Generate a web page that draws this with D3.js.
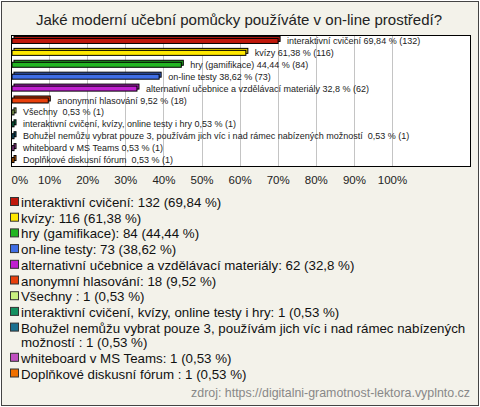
<!DOCTYPE html>
<html><head><meta charset="utf-8">
<script src="https://cdn.jsdelivr.net/npm/d3@7"></script>
<style>
html,body{margin:0;padding:0;background:#fff;}
svg{display:block;font-family:"Liberation Sans",Arial,sans-serif;}
</style></head>
<body>
<svg id="c" width="480" height="407"></svg>
<script>
const title = "Jaké moderní učební pomůcky používáte v on-line prostředí?";
const categories = [
  "interaktivní cvičení",
  "kvízy",
  "hry (gamifikace)",
  "on-line testy",
  "alternativní učebnice a vzdělávací materiály",
  "anonymní hlasování",
  "Všechny ",
  "interaktivní cvičení, kvízy, online testy i hry",
  "Bohužel nemůžu vybrat pouze 3, používám jich víc i nad rámec nabízených možností ",
  "whiteboard v MS Teams",
  "Doplňkové diskusní fórum "
];
const counts = [132, 116, 84, 73, 62, 18, 1, 1, 1, 1, 1];
const percents = [69.84, 61.38, 44.44, 38.62, 32.8, 9.52, 0.53, 0.53, 0.53, 0.53, 0.53];
const tickValues = [0, 10, 20, 30, 40, 50, 60, 70, 80, 90, 100];
const colors = ["#c0180c","#ffe800","#22b522","#3f6ee6","#c020d0","#e8400c","#c8f080","#149060","#1a7090","#c050c0","#f07000"];
const source = "zdroj: https://digitalni-gramotnost-lektora.vyplnto.cz";

const fmt = v => String(v).replace(".", ",");
const svg = d3.select("#c");

// background frame
svg.append("rect").attr("x",1.5).attr("y",1.5).attr("width",477).attr("height",404)
  .attr("fill","#f3f2ea").attr("stroke","#444").attr("stroke-width",1);

svg.append("text").attr("x",239).attr("y",25).attr("text-anchor","middle")
  .attr("font-size",15).attr("fill","#222").text(title);

const plotL = 11, plotR = 470, plotT = 35, plotB = 166;
const x = d3.scaleLinear().domain([0,100]).range([plotL, 392]);
const y = d3.scaleBand().domain(categories).range([plotT, plotB]);

svg.append("rect").attr("x",plotL+0.5).attr("y",plotT+0.5)
  .attr("width",plotR-plotL).attr("height",plotB-plotT)
  .attr("fill","#fff").attr("stroke","none");

// gridlines
svg.append("g").selectAll("line").data(tickValues.slice(1)).join("line")
  .attr("x1",d=>Math.round(x(d))+0.5).attr("x2",d=>Math.round(x(d))+0.5)
  .attr("y1",plotT).attr("y2",plotB).attr("stroke","#c4c4c4").attr("stroke-width",1);

svg.append("rect").attr("x",plotL+0.5).attr("y",plotT+0.5)
  .attr("width",plotR-plotL).attr("height",plotB-plotT)
  .attr("fill","none").attr("stroke","#000").attr("stroke-width",1);

// axis
const axis = d3.axisBottom(x).tickValues(tickValues).tickFormat(d=>d+"%").tickSize(0).tickPadding(0);
const ag = svg.append("g").attr("transform",`translate(0,${176})`).call(axis);
ag.select(".domain").remove();
ag.selectAll("text").attr("font-size",11.5).attr("fill","#222")
  .attr("font-family","'Liberation Sans',Arial,sans-serif")
  .attr("text-anchor",d=>d===0?"start":"middle");

// bars (3D)
const bh = 5, depth = 2;
const data = categories.map((c,i)=>({c,i,p:percents[i],n:counts[i]}));
const bars = svg.append("g").selectAll("g").data(data).join("g");
bars.append("rect")
  .attr("x",d=>x(0)+1+depth).attr("y",d=>y(d.c)+y.bandwidth()/2-bh/2-depth)
  .attr("width",d=>Math.max(x(d.p)-x(0),1)).attr("height",bh)
  .attr("fill",(d)=>d3.color(colors[d.i]).darker(0.3)).attr("stroke","#000").attr("stroke-width",1);
bars.append("rect")
  .attr("x",d=>x(0)+1).attr("y",d=>y(d.c)+y.bandwidth()/2-bh/2)
  .attr("width",d=>Math.max(x(d.p)-x(0),1)).attr("height",bh)
  .attr("fill",d=>colors[d.i]).attr("stroke","#000").attr("stroke-width",1);
bars.append("text")
  .attr("x",d=>x(d.p)+10).attr("y",d=>y(d.c)+y.bandwidth()/2+3)
  .attr("font-size",9).attr("fill","#222").style("white-space","pre")
  .text(d=>`${d.c} ${fmt(d.p)} % (${d.n})`);

// legend
let ly = 207;
const lg = svg.append("g");
data.forEach(d=>{
  lg.append("rect").attr("x",10.5).attr("y",ly-9.5).attr("width",8).attr("height",8)
    .attr("fill",colors[d.i]).attr("stroke","#333").attr("stroke-width",1);
  const full = `${d.c}: ${d.n} (${fmt(d.p)} %)`;
  const t = lg.append("text").attr("x",21).attr("y",ly).attr("font-size",13.3).attr("fill","#111")
    .style("white-space","pre");
  const words = full.split(" ");
  let line = [], lines = [];
  const tmp = t.append("tspan");
  for (const w of words) {
    line.push(w);
    tmp.text(line.join(" "));
    if (tmp.node().getComputedTextLength() > 452 && line.length>1) {
      line.pop(); lines.push(line.join(" ")); line=[w];
    }
  }
  lines.push(line.join(" "));
  tmp.remove();
  lines.forEach((l,k)=>{
    t.append("tspan").attr("x",21).attr("dy",k===0?0:14.5).text(l);
  });
  ly += 15.7 + (lines.length-1)*14.5;
});

svg.append("text").attr("x",470).attr("y",397).attr("text-anchor","end")
  .attr("font-size",12.4).attr("fill","#888").text(source);
</script>
</body></html>
